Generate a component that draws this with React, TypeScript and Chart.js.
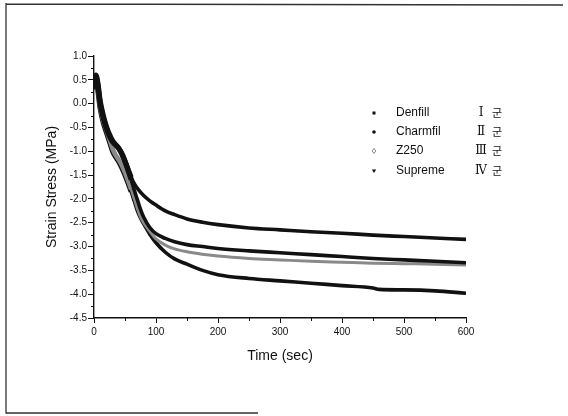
import React, { useEffect, useRef } from "react";
import { Chart, registerables } from "chart.js";

Chart.register(...registerables);

// Series: [time (sec), strain stress (MPa)]
const seriesNames = ["Denfill", "Charmfil", "Z250", "Supreme"];
const groupNumerals = ["Ⅰ", "Ⅱ", "Ⅲ", "Ⅳ"];
const groupSuffix = "군";

const denfill: [number, number][] = [
  [1, 0.35], [3, 0.6], [6, 0.45], [10, 0.05], [15, -0.25], [20, -0.48], [25, -0.65],
  [30, -0.78], [35, -0.86], [40, -0.94], [45, -1.06], [50, -1.22], [55, -1.38],
  [60, -1.55], [65, -1.68], [70, -1.78], [80, -1.93], [90, -2.04], [100, -2.13],
  [115, -2.25], [130, -2.33], [150, -2.42], [175, -2.49], [200, -2.54], [250, -2.61],
  [300, -2.65], [350, -2.69], [400, -2.72], [450, -2.76], [500, -2.79], [550, -2.82],
  [600, -2.85],
];
const charmfil: [number, number][] = [
  [1, 0.3], [3, 0.58], [6, 0.4], [10, 0.0], [15, -0.3], [20, -0.52], [25, -0.68],
  [30, -0.8], [35, -0.87], [40, -0.94], [45, -1.05], [50, -1.2], [55, -1.4],
  [60, -1.6], [65, -1.82], [70, -2.02], [75, -2.22], [80, -2.38], [90, -2.6],
  [100, -2.73], [115, -2.83], [130, -2.9], [150, -2.96], [175, -3.0], [200, -3.04],
  [250, -3.09], [300, -3.13], [350, -3.17], [400, -3.21], [450, -3.25], [500, -3.28],
  [550, -3.31], [600, -3.34],
];
const z250: [number, number][] = [
  [1, 0.3], [3, 0.55], [6, 0.35], [10, -0.05], [15, -0.35], [20, -0.55], [25, -0.75],
  [30, -0.95], [35, -1.08], [40, -1.18], [45, -1.3], [50, -1.45], [55, -1.62],
  [60, -1.8], [65, -2.0], [70, -2.2], [75, -2.38], [80, -2.5], [90, -2.68],
  [100, -2.84], [115, -2.97], [130, -3.05], [150, -3.11], [175, -3.16], [200, -3.2],
  [250, -3.25], [300, -3.28], [350, -3.31], [400, -3.33], [450, -3.35], [500, -3.36],
  [550, -3.37], [600, -3.39],
];
const supreme: [number, number][] = [
  [1, 0.3], [3, 0.5], [6, 0.3], [10, -0.1], [15, -0.4], [20, -0.6], [25, -0.8],
  [30, -1.0], [35, -1.12], [40, -1.22], [45, -1.35], [50, -1.5], [55, -1.67],
  [60, -1.85], [65, -2.05], [70, -2.25], [75, -2.4], [80, -2.52], [90, -2.74],
  [100, -2.92], [115, -3.12], [130, -3.26], [150, -3.37], [175, -3.5], [200, -3.59],
  [250, -3.67], [300, -3.72], [350, -3.77], [400, -3.82], [450, -3.87], [460, -3.9],
  [500, -3.91], [550, -3.93], [600, -3.98],
];

const seriesData = [denfill, charmfil, z250, supreme];
const seriesColors = ["#111111", "#111111", "#8a8a8a", "#111111"];
const markerShapes = ["square", "circle", "diamond", "triangleDown"];

const xMin = 0, xMax = 600, xStep = 100, xMinorStep = 50;
const yMin = -4.5, yMax = 1.0, yStep = 0.5, yMinorStep = 0.25;

const minorTicksPlugin = {
  id: "minorTicks",
  afterDraw(chart: any) {
    const ctx = chart.ctx;
    const xs = chart.scales.x;
    const ys = chart.scales.y;
    ctx.save();
    ctx.strokeStyle = "#111";
    ctx.lineWidth = 1;
    for (let v = xMin + xMinorStep; v < xMax; v += xStep) {
      const px = Math.round(xs.getPixelForValue(v)) + 0.5;
      ctx.beginPath();
      ctx.moveTo(px, ys.bottom);
      ctx.lineTo(px, ys.bottom + 3);
      ctx.stroke();
    }
    for (let v = yMin + yMinorStep; v < yMax; v += yStep) {
      const py = Math.round(ys.getPixelForValue(v)) + 0.5;
      ctx.beginPath();
      ctx.moveTo(xs.left, py);
      ctx.lineTo(xs.left - 3, py);
      ctx.stroke();
    }
    ctx.restore();
  },
};

const frameAndLegendPlugin = {
  id: "frameLegend",
  beforeDraw(chart: any) {
    const ctx = chart.ctx;
    ctx.save();
    ctx.fillStyle = "#fff";
    ctx.fillRect(0, 0, chart.width, chart.height);
    ctx.strokeStyle = "#333";
    ctx.lineWidth = 1.3;
    ctx.beginPath();
    ctx.moveTo(6, 3);
    ctx.lineTo(6, 413);
    ctx.lineTo(258, 413);
    ctx.moveTo(6, 4);
    ctx.lineTo(563, 5);
    ctx.stroke();
    ctx.restore();
  },
  afterDraw(chart: any) {
    const ctx = chart.ctx;
    ctx.save();
    const rowY = [113, 132, 151, 171];
    seriesNames.forEach((name, i) => {
      const y = rowY[i];
      const mx = 374;
      ctx.fillStyle = seriesColors[i];
      ctx.strokeStyle = seriesColors[i];
      ctx.lineWidth = 1;
      const shape = markerShapes[i];
      ctx.beginPath();
      if (shape === "square") {
        ctx.fillRect(mx - 1.5, y - 1.5, 3, 3);
      } else if (shape === "circle") {
        ctx.arc(mx, y, 1.8, 0, Math.PI * 2);
        ctx.fill();
      } else if (shape === "diamond") {
        ctx.moveTo(mx, y - 2.5);
        ctx.lineTo(mx + 1.8, y);
        ctx.lineTo(mx, y + 2.5);
        ctx.lineTo(mx - 1.8, y);
        ctx.closePath();
        ctx.stroke();
      } else {
        ctx.moveTo(mx - 2.2, y - 1.6);
        ctx.lineTo(mx + 2.2, y - 1.6);
        ctx.lineTo(mx, y + 2);
        ctx.closePath();
        ctx.fill();
      }
      ctx.fillStyle = "#111";
      ctx.textBaseline = "middle";
      ctx.textAlign = "left";
      ctx.font = "12px 'Liberation Sans', Arial, sans-serif";
      ctx.fillText(name, 396, y);
      ctx.textAlign = "center";
      ctx.font = "12px 'Liberation Serif', 'DejaVu Serif', serif";
      ctx.fillText(groupNumerals[i], 481, y);
      ctx.font = "11px 'Noto Sans CJK KR', sans-serif";
      ctx.fillText(groupSuffix, 497, y);
    });
    ctx.restore();
  },
};

export default function App() {
  const canvasRef = useRef<HTMLCanvasElement | null>(null);

  useEffect(() => {
    document.body.style.margin = "0";
    const canvas = canvasRef.current;
    if (!canvas) return;
    const tickFont = { family: "'Liberation Sans', Arial, sans-serif", size: 10 };
    const titleFont = { family: "'Liberation Sans', Arial, sans-serif", size: 14 };
    const chart = new Chart(canvas, {
      type: "scatter",
      data: {
        datasets: seriesData.map((d, i) => {
          const base = i === 2 ? 3 : 3.6;
          return {
            label: seriesNames[i],
            data: d.map(([x, y]) => ({ x, y })),
            showLine: true,
            borderColor: seriesColors[i],
            backgroundColor: seriesColors[i],
            borderWidth: base,
            pointRadius: 0,
            cubicInterpolationMode: "monotone" as const,
            segment: {
              borderWidth: (c: any) => (c.p0.parsed.x < 60 ? base + 1.6 : base),
            },
          };
        }),
      },
      options: {
        animation: false,
        responsive: false,
        maintainAspectRatio: false,
        layout: { padding: { left: 0, top: 56, right: 102, bottom: 48 } },
        plugins: {
          legend: { display: false },
          tooltip: { enabled: false },
        },
        scales: {
          x: {
            type: "linear",
            min: xMin,
            max: xMax,
            ticks: {
              stepSize: xStep,
              color: "#111",
              font: tickFont,
              padding: 3,
              maxRotation: 0,
              callback: (v: any) => String(v),
            },
            grid: {
              display: true,
              drawOnChartArea: false,
              drawTicks: true,
              tickLength: 5,
              color: "#111",
            },
            border: { display: true, color: "#111", width: 1.4 },
            title: {
              display: true,
              text: "Time (sec)",
              color: "#111",
              font: titleFont,
              padding: { top: 0, bottom: 3 },
            },
            afterFit: (s: any) => {
              s.height = 50;
            },
          },
          y: {
            type: "linear",
            min: yMin,
            max: yMax,
            ticks: {
              stepSize: yStep,
              color: "#111",
              font: tickFont,
              padding: 1,
              callback: (v: any) => Number(v).toFixed(1),
            },
            grid: {
              display: true,
              drawOnChartArea: false,
              drawTicks: true,
              tickLength: 6,
              color: "#111",
            },
            border: { display: true, color: "#111", width: 1.4 },
            title: {
              display: true,
              text: "Strain Stress (MPa)",
              color: "#111",
              font: titleFont,
              padding: { top: 44, bottom: 0 },
            },
            afterFit: (s: any) => {
              s.width = 94;
            },
          },
        },
      },
      plugins: [frameAndLegendPlugin, minorTicksPlugin],
    });
    return () => chart.destroy();
  }, []);

  return (
    <div style={{ width: 568, height: 416 }}>
      <canvas ref={canvasRef} width={568} height={416} />
    </div>
  );
}
